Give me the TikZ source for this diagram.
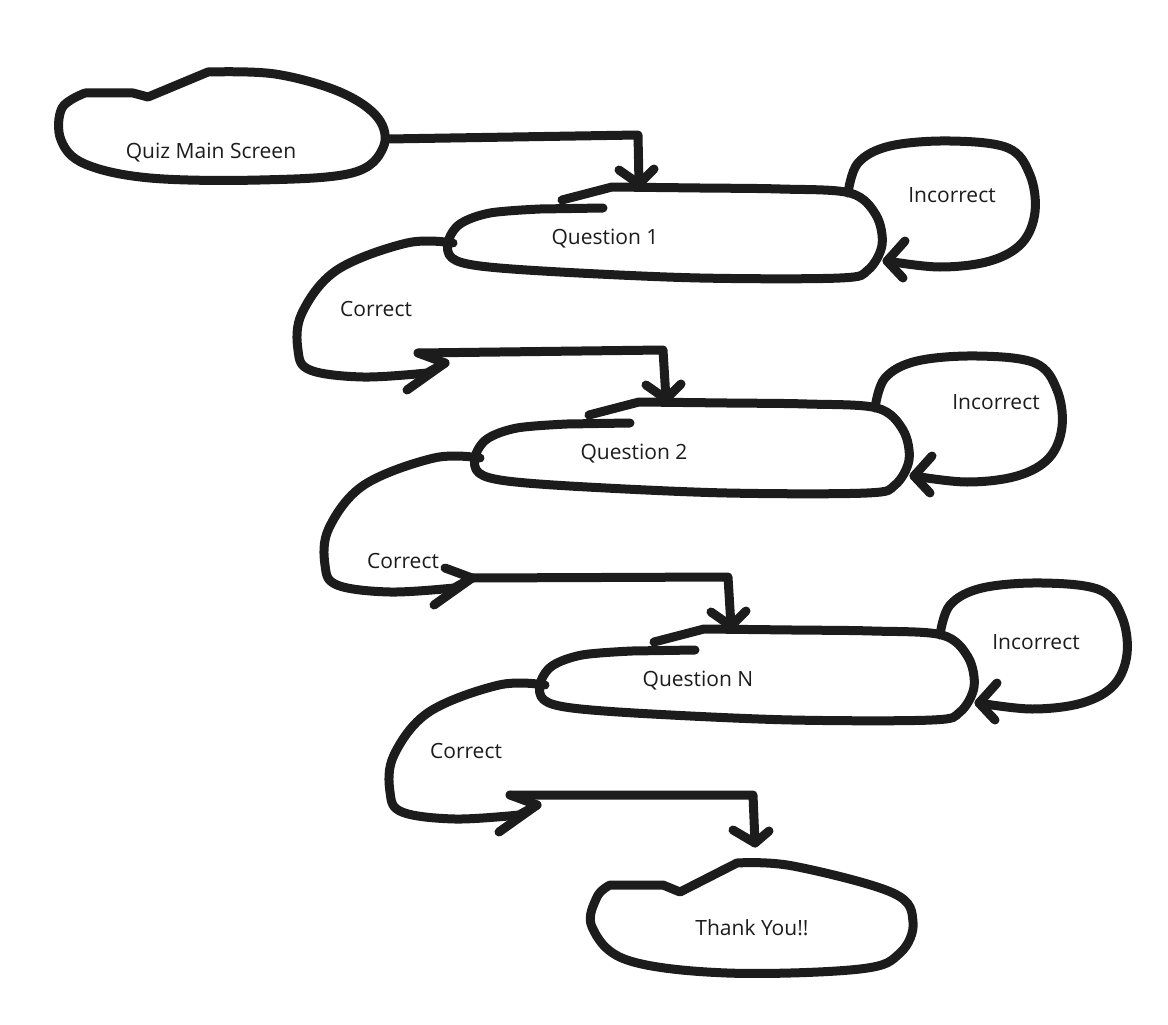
\documentclass[tikz,border=0pt]{standalone}
\usepackage{fontspec}
\setmainfont{Open Sans}
\definecolor{ink}{HTML}{1C1C1C}
\tikzset{
  stroke/.style={draw=ink, line width=9pt, line cap=round, line join=round},
  lbl/.style={font=\fontsize{21}{24}\selectfont, text=ink, inner sep=0pt},
  qpic/.pic={
    % question box outline
    \draw[stroke] (603,208) -- plot[smooth,tension=0.55] coordinates {(540,209) (490,213) (460,224) (448,242) (452,258) (480,266) (560,272) (700,278) (840,278) (868,270) (882,245) (876,215) (850,193) (780,189) (700,188) (612,187)} -- (562,200);
    % incorrect self loop
    \coordinate (-itip) at (887,261);
    \draw[stroke] plot[smooth,tension=0.6] coordinates {(848,193) (858,163) (890,146) (950,141) (1008,148) (1030,175) (1035,212) (1022,243) (990,261) (940,267) (887,261)};
    \draw[stroke] (905,241) -- (-itip) -- (903,278);
    % correct loop
    \coordinate (-ctip) at (445,363);
    \coordinate (-cbarb) at (418,353);
    \draw[stroke] plot[smooth,tension=0.6] coordinates {(453,243) (407,243) (337,270) (302,313) (298,350) (310,370) (363,377) (427,373)} -- (-ctip);
    \draw[stroke] (-cbarb) -- (-ctip) -- (407,390);
    % inbound arrow head position
    \coordinate (-in) at (639,184);
    \draw[stroke] (619,170) -- (-in) -- (654,169);
  }
}
\begin{document}
\begin{tikzpicture}[x=1pt,y=-1pt]
\useasboundingbox[fill=white] (0,0) rectangle (1168,1025);

% Quiz main screen
\draw[stroke] (85,93) -- (133,93) -- (148,97) -- plot[smooth,tension=0.6] coordinates {(208,72) (275,74) (340,92) (378,118) (383,148) (352,173) (260,180) (150,178) (85,164) (61,140) (62,108) (85,93)};
\node[lbl] (quiz) at (211,153) {Quiz Main Screen};
\coordinate (quizout) at (388,139);

% Question blocks
\pic (q1) at (0,0) {qpic};
\pic (q2) at (27,215) {qpic};
\pic (qn) at (92,442) {qpic};

\node[lbl] (t1) at (605,239) {Question 1};
\node[lbl] (t2) at (634,454) {Question 2};
\node[lbl] (tn) at (698,681) {Question N};

\node[lbl] (i1) at (952,195) {Incorrect};
\node[lbl] (i2) at (996,402) {Incorrect};
\node[lbl] (in) at (1036,642) {Incorrect};

\node[lbl] (c1) at (376,309) {Correct};
\node[lbl] (c2) at (403,561) {Correct};
\node[lbl] (cn) at (466,751) {Correct};

% Thank you
\draw[stroke] (610,885) -- (663,885) -- (680,892) -- plot[smooth,tension=0.6] coordinates {(737,863) (793,866) (893,893) (913,922) (900,953) (860,969) (727,973) (627,960) (592,927) (597,897) (610,885)};
\node[lbl] (ty) at (752,928) {Thank You!!};
\coordinate (tyin) at (755,843);

% connectors
\draw[stroke] (quizout) -- (638,135) -- (q1-in);
\draw[stroke] (q1-cbarb) -- (663,350) -- (q2-in);
\draw[stroke] (q2-ctip) -- (728,577) -- (qn-in);
\draw[stroke] (qn-cbarb) -- (753,795) -- (tyin);
\draw[stroke] (733,830) -- (tyin) -- (769,831);
\end{tikzpicture}
\end{document}
